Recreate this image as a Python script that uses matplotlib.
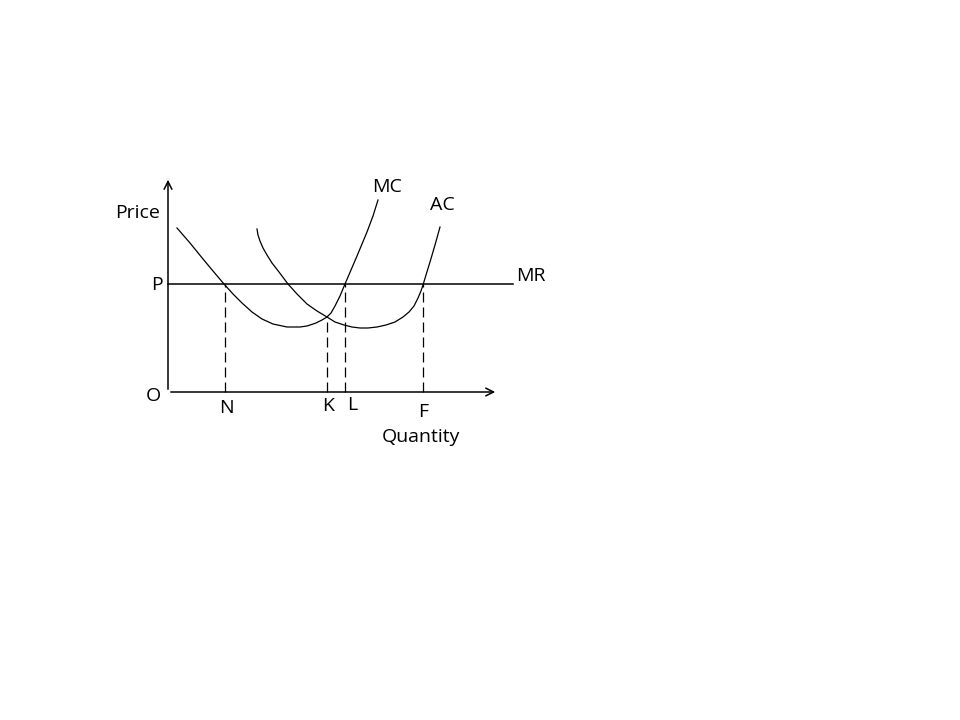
import matplotlib.pyplot as plt

# quantity / price coordinates (origin at O)
mc_q = [9, 22, 35, 45, 56, 65, 74, 84, 94, 105, 119, 132, 139, 148, 154, 159, 163, 167,
        172, 177, 183, 189, 194, 199, 205, 210]
mc_p = [164, 149, 133, 121, 108, 98, 89, 80, 73, 68, 65, 65, 66, 69, 72, 75, 79, 86,
        96, 108, 122, 136, 148, 160, 176, 192]

ac_q = [89, 90, 92, 95, 99, 104, 111, 120, 129, 139, 149, 159, 167, 176, 184, 192, 200,
        209, 218, 227, 235, 241, 246, 250, 253, 255, 258, 262, 267, 272]
ac_p = [163, 157, 151, 144, 137, 129, 120, 108, 98, 88, 81, 75, 70, 67, 65, 64, 64,
        65, 67, 70, 75, 80, 86, 94, 101, 107, 117, 130, 147, 165]

price_level = 108
drop_q = [57, 159, 177, 255]
drop_p = [108, 75, 108, 108]
drop_names = ['N', 'K', 'L', 'F']
drop_label_pos = [(58, -16), (160, -14), (184, -13), (255, -20)]

fig = plt.figure(figsize=(9.6, 7.2), dpi=100)
ax = fig.add_axes([0, 0, 1, 1])
ax.set_xlim(-168, 792)
ax.set_ylim(-328, 392)
ax.axis('off')

font = 'Open Sans'
fs = 14

# axes with open arrow heads
ax.annotate('', xy=(0, 215), xytext=(0, 0),
            arrowprops=dict(arrowstyle='->', lw=1.1, color='black', mutation_scale=14))
ax.annotate('', xy=(330, 0), xytext=(0, 0),
            arrowprops=dict(arrowstyle='->', lw=1.1, color='black', mutation_scale=14))

# MR line
ax.plot([0, 345], [price_level, price_level], color='black', lw=1.1)

# cost curves
ax.plot(mc_q, mc_p, color='black', lw=0.9, solid_joinstyle='round')
ax.plot(ac_q, ac_p, color='black', lw=0.9, solid_joinstyle='round')

# dashed drop lines
for q, p in zip(drop_q, drop_p):
    ax.plot([q, q], [0, p], color='black', lw=0.9, dashes=(8, 4))

for name, (lx, ly) in zip(drop_names, drop_label_pos):
    ax.text(lx, ly, name, ha='center', va='center', fontsize=fs, family=font)

ax.text(-30, 179, 'Price', ha='center', va='center', fontsize=fs, family=font)
ax.text(-11, 107, 'P', ha='center', va='center', fontsize=fs, family=font)
ax.text(-15, -4, 'O', ha='center', va='center', fontsize=fs, family=font)
ax.text(253, -45, 'Quantity', ha='center', va='center', fontsize=fs, family=font)
ax.text(219, 205, 'MC', ha='center', va='center', fontsize=fs, family=font)
ax.text(274, 187, 'AC', ha='center', va='center', fontsize=fs, family=font)
ax.text(363, 116, 'MR', ha='center', va='center', fontsize=fs, family=font)

fig.savefig('out.png', dpi=100)
